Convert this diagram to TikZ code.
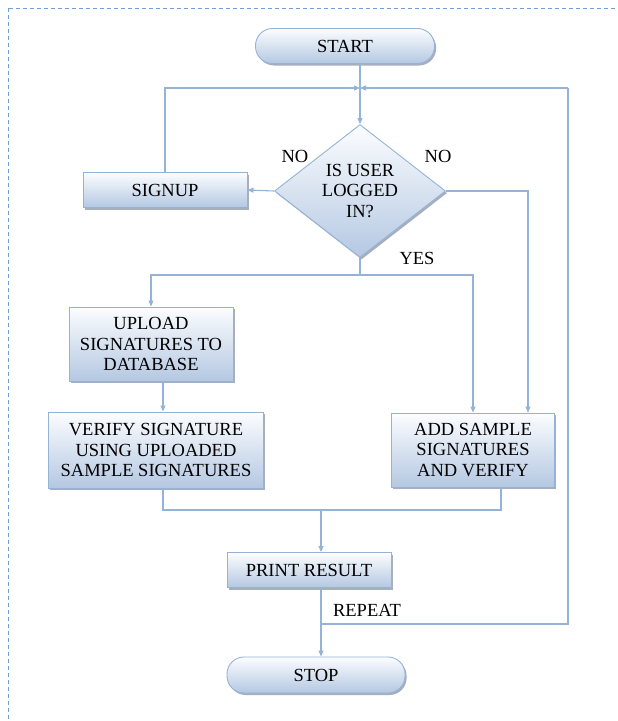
\documentclass[tikz,border=0pt]{standalone}
\usepackage{fontspec}
\setmainfont{Liberation Serif}
\usetikzlibrary{arrows.meta, positioning, shapes.geometric, shadows}
\definecolor{flowline}{RGB}{149, 179, 215}
\definecolor{boxtop}{RGB}{252, 253, 255}
\definecolor{boxbottom}{RGB}{180, 200, 226}
\definecolor{boxshadow}{RGB}{130, 140, 160}
\definecolor{framedash}{RGB}{110, 160, 215}

\begin{document}
\begin{tikzpicture}[x=1pt, y=-1pt,
    every node/.style={font=\fontsize{18.5}{20.5}\selectfont},
    box/.style={draw=flowline, line width=0.9pt, top color=boxtop, bottom color=boxbottom,
        inner sep=0pt, align=center,
        drop shadow={shadow xshift=1.6pt, shadow yshift=-2pt, fill=boxshadow, opacity=0.7}},
    pill/.style={box, rounded corners=17pt},
    decision/.style={box, diamond, aspect=1.29},
    flow/.style={draw=flowline, line width=1.1pt, -{Triangle[length=6pt, width=5pt]}},
    link/.style={draw=flowline, line width=1.1pt}]
    \useasboundingbox (0,0) rectangle (618,721);
    % Frame
    \draw[framedash, line width=1pt, dash pattern=on 4pt off 3pt] (8,8) rectangle (640,740);

    % Steps
    \node[pill, minimum width=179pt, minimum height=35pt] (start) at (345,46) {START};
    \node[decision, minimum width=171pt, minimum height=133pt] (check) at (360,191) {IS USER\\LOGGED\\IN?};
    \node[box, minimum width=164pt, minimum height=35pt] (signup) at (165,190) {SIGNUP};
    \node[box, minimum width=164pt, minimum height=74pt] (upload) at (151,344) {UPLOAD\\SIGNATURES TO\\DATABASE};
    \node[box, minimum width=215pt, minimum height=76pt] (verify) at (156,450) {VERIFY SIGNATURE\\USING UPLOADED\\SAMPLE SIGNATURES};
    \node[box, minimum width=163pt, minimum height=74pt] (addsample) at (473,450) {ADD SAMPLE\\SIGNATURES\\AND VERIFY};
    \node[box, minimum width=164pt, minimum height=35pt] (print) at (309,570) {PRINT RESULT};
    \node[pill, minimum width=178pt, minimum height=36pt] (stop) at (316,675) {STOP};

    % Branch points
    \coordinate (join) at (360,88);
    \coordinate (yes) at (360,275);
    \coordinate (merge) at (321,510);
    \coordinate (repeat) at (321,624);
    \coordinate (back) at (568,88);

    % Connectors
    \draw[link] (start.south -| join) -- (join);
    \draw[flow] (join) -- (check.north);
    \draw[flow] (signup.north) |- (join);
    \draw[flow] (back) -- (join);
    \draw[flow] (check.west) -- (signup.east);
    \draw[flow] (check.east) -| ([xshift=55pt]addsample.north);
    \draw[link] (check.south) -- (yes);
    \draw[flow] (yes) -| (upload.north);
    \draw[flow] (yes) -| (addsample.north);
    \draw[flow] ([xshift=12pt]upload.south) -- ([xshift=7pt]verify.north);
    \draw[link] ([xshift=7pt]verify.south) |- (merge) -| ([xshift=28pt]addsample.south);
    \draw[flow] (merge) -- (print.north -| merge);
    \draw[flow] (print.south -| merge) -- (stop.north -| merge);
    \draw[link] (repeat) -| (back);

    % Labels
    \node (noleft) at (295,156) {NO};
    \node (noright) at (438,156) {NO};
    \node (yeslabel) at (417,258) {YES};
    \node (repeatlabel) at (367,610) {REPEAT};
\end{tikzpicture}
\end{document}
